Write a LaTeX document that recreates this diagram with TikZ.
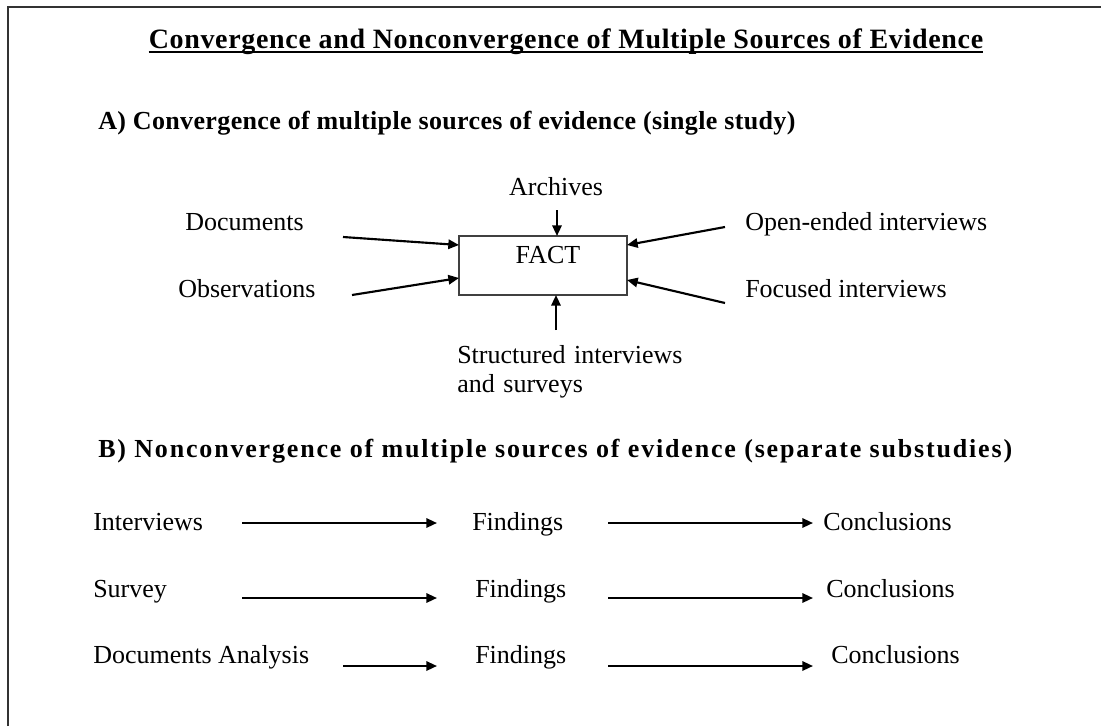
\documentclass[tikz,border=0pt]{standalone}
\usepackage{fontspec}
\setmainfont{Liberation Serif}
\usetikzlibrary{arrows.meta}
\begin{document}
\begin{tikzpicture}[x=0.75pt,y=-0.75pt,
  txt/.style={inner sep=0pt, anchor=base west, font=\fontsize{19.5}{21.75}\selectfont},
  head/.style={inner sep=0pt, anchor=base west, font=\fontsize{19.5}{23}\selectfont\bfseries},
  arr/.style={line width=1.6pt, -{Triangle[length=8pt,width=7pt]}},
  factbox/.style={draw=black!75, line width=0.8pt, minimum width=126pt, minimum height=44.25pt, inner sep=0pt},
]
\useasboundingbox (0,0) rectangle (1101,726);
\draw[line width=1.4pt, black!80] (8,726) -- (8,7) -- (1101,7);

% title
\node[inner sep=0pt, anchor=base, font=\fontsize{21}{24}\selectfont\bfseries\addfontfeature{LetterSpace=2.4}] (title) at (566,48)
  {Convergence and Nonconvergence of Multiple Sources of Evidence};
\draw[line width=1.6pt] ([yshift=-3pt]title.base west) -- ([yshift=-3pt]title.base east);

% part A
\node[head, font=\fontsize{19.5}{23}\selectfont\bfseries\addfontfeature{LetterSpace=1.4}] (ha) at (98,129) {A) Convergence of multiple sources of evidence (single study)};

\node[factbox] (fact) at (543,265.5) {};
\node[txt, anchor=base] (factlbl) at (548,263) {FACT};

\node[txt, anchor=base] (arch) at (556,195) {Archives};
\node[txt] (docs) at (185,230) {Documents};
\node[txt] (obs) at (178,297) {Observations};
\node[txt] (open) at (745,230) {Open-ended interviews};
\node[txt] (foc) at (745,297) {Focused interviews};
\node[txt, align=left, anchor=north west, text width=240pt] (struct) at (457,345)
  {Structured interviews\\and surveys};

\coordinate (sArch) at (557,210);  \coordinate (eArch) at (557,236);
\coordinate (sDoc) at (343,237);   \coordinate (eDoc) at (459,245);
\coordinate (sObs) at (352,295);   \coordinate (eObs) at (459,278);
\coordinate (sOpen) at (725,227);  \coordinate (eOpen) at (627,245);
\coordinate (sFoc) at (725,303);   \coordinate (eFoc) at (627,280);
\coordinate (sStr) at (556,330);   \coordinate (eStr) at (556,295);

\draw[arr] (sArch) -- (eArch);
\draw[arr] (sDoc) -- (eDoc);
\draw[arr] (sObs) -- (eObs);
\draw[arr] (sOpen) -- (eOpen);
\draw[arr] (sFoc) -- (eFoc);
\draw[arr] (sStr) -- (eStr);

% part B
\node[head, font=\fontsize{19.5}{23}\selectfont\bfseries\addfontfeature{LetterSpace=7}] (hb) at (98,457) {B) Nonconvergence of multiple sources of evidence (separate substudies)};

\node[txt] (int) at (93,530) {Interviews};
\node[txt] (f1) at (472,530) {Findings};
\node[txt] (c1) at (823,530) {Conclusions};

\node[txt] (sur) at (93,597) {Survey};
\node[txt] (f2) at (475,597) {Findings};
\node[txt] (c2) at (826,597) {Conclusions};

\node[txt] (da) at (93,663) {Documents Analysis};
\node[txt] (f3) at (475,663) {Findings};
\node[txt] (c3) at (831,663) {Conclusions};

\coordinate (a1s) at (242,523); \coordinate (a1e) at (437,523);
\coordinate (b1s) at (608,523); \coordinate (b1e) at (813,523);
\coordinate (a2s) at (242,598); \coordinate (a2e) at (437,598);
\coordinate (b2s) at (608,598); \coordinate (b2e) at (813,598);
\coordinate (a3s) at (343,666); \coordinate (a3e) at (437,666);
\coordinate (b3s) at (608,666); \coordinate (b3e) at (813,666);

\draw[arr] (a1s) -- (a1e);
\draw[arr] (b1s) -- (b1e);
\draw[arr] (a2s) -- (a2e);
\draw[arr] (b2s) -- (b2e);
\draw[arr] (a3s) -- (a3e);
\draw[arr] (b3s) -- (b3e);
\end{tikzpicture}
\end{document}
